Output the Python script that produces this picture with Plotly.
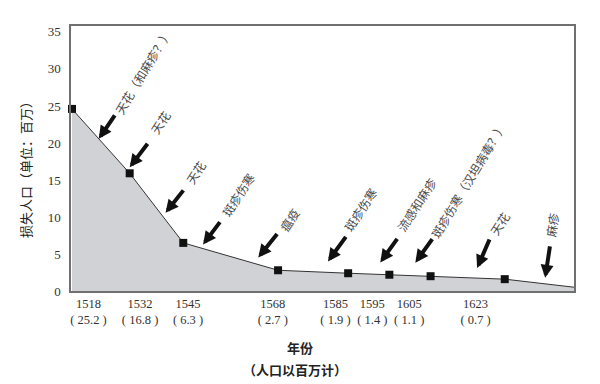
import numpy as np
import plotly.graph_objects as go

# ---------------- data ----------------
years = [1518, 1532, 1545, 1568, 1585, 1595, 1605, 1623]
loss = [24.6, 15.9, 6.5, 2.8, 2.4, 2.2, 2.0, 1.6]          # plotted heights (millions)
label_values = ["25.2", "16.8", "6.3", "2.7", "1.9", "1.4", "1.1", "0.7"]
end_year = 1640
end_value = 0.5

epidemic_labels = ["天花（和麻疹？）", "天花", "天花", "斑疹伤寒", "瘟疫",
                   "斑疹伤寒", "流感和麻疹", "斑疹伤寒（汉坦病毒？）", "天花", "麻疹"]
epidemic_years = [1524.5, 1532, 1540.7, 1549.8, 1563.2, 1580.1, 1592.8, 1601.3, 1616.3, 1632.8]

y_ticks = [0, 5, 10, 15, 20, 25, 30, 35]

# ---------------- styling ----------------
arrow_ax = [17, 19, 19, 18, 20, 19, 18, 18, 13, 5]
arrow_ay = [-25, -25, -24, -24, -25, -26, -25, -25, -30, -33]
arrow_gap = [0, 6, 7, 4, 7, 11, 12, 13, 10, 6]
text_dx = [44, 30, 30, 35, 31, 32, 36, 53, 22, 7]
text_dy = [67, 45, 40, 50, 38, 52, 58, 83, 45, 53]
text_angle = [-59, -57, -57, -57, -57, -57, -57, -59, -57, -82]

line_x = years + [end_year]
line_y = loss + [end_value]
tip_y = np.interp(epidemic_years, line_x, line_y)

CJK = "Noto Sans CJK SC"
SERIF = "Liberation Serif"

fig = go.Figure()
# invisible trace so the labelled year axis (x) is drawn
fig.add_trace(go.Scatter(
    x=years, y=loss, mode="markers", xaxis="x",
    marker=dict(size=1, opacity=0), hoverinfo="skip", showlegend=False))
fig.add_trace(go.Scatter(
    x=line_x, y=line_y, mode="lines", fill="tozeroy", xaxis="x2",
    fillcolor="#d0d2d6", line=dict(color="#333333", width=1),
    hoverinfo="skip", showlegend=False))
fig.add_trace(go.Scatter(
    x=years, y=loss, mode="markers", cliponaxis=False, xaxis="x2",
    marker=dict(symbol="square", size=8, color="#111111"),
    showlegend=False))

annotations = []
for i, lab in enumerate(epidemic_labels):
    annotations.append(dict(
        x=epidemic_years[i], y=tip_y[i], xref="x2", yref="y",
        text="", showarrow=True, arrowhead=2, arrowwidth=4, arrowsize=0.65,
        arrowcolor="#111111", ax=arrow_ax[i], ay=arrow_ay[i],
        yshift=arrow_gap[i]))
    annotations.append(dict(
        x=epidemic_years[i], y=tip_y[i], xref="x2", yref="y",
        text=lab, showarrow=False, textangle=text_angle[i],
        xshift=text_dx[i], yshift=text_dy[i] + arrow_gap[i],
        font=dict(family=CJK, size=12, color="#4a4a4a")))

annotations.append(dict(
    x=-0.0895, y=0.472, xref="paper", yref="paper", text="损失人口（单位：百万）",
    textangle=-90, showarrow=False, xanchor="center", yanchor="middle",
    font=dict(family=CJK, size=13, color="#222222")))
annotations.append(dict(
    x=0.455, y=-0.215, xref="paper", yref="paper", text="<b>年份</b>",
    showarrow=False, xanchor="center", yanchor="middle",
    font=dict(family=CJK, size=13, color="#222222")))
annotations.append(dict(
    x=0.445, y=-0.298, xref="paper", yref="paper", text="<b>（人口以百万计）</b>",
    showarrow=False, xanchor="center", yanchor="middle",
    font=dict(family=CJK, size=13, color="#222222")))

tick_text = [f"{y}<br>( {v} )" for y, v in zip(years, label_values)]

frame = dict(showline=True, mirror=True, linecolor="#707070", linewidth=1.5)

# page body has an 8px default margin, so the figure is 8px smaller
fig.update_layout(
    width=592, height=376,
    margin=dict(l=63, r=26, t=18, b=93),
    paper_bgcolor="white", plot_bgcolor="white",
    showlegend=False,
    annotations=annotations,
    xaxis=dict(range=[1513.27, 1649.7], tickmode="array",
               tickvals=years, ticktext=tick_text, tickangle=0,
               ticks="", showgrid=False, zeroline=False,
               tickfont=dict(family=SERIF, size=12.5, color="#333333"), **frame),
    xaxis2=dict(overlaying="x", anchor="y", side="bottom",
                range=[1517.76, 1639.8], showticklabels=False,
                showgrid=False, zeroline=False, ticks="", **frame),
    yaxis=dict(range=[0, 35.8], tickmode="array", tickvals=y_ticks,
               showgrid=False, zeroline=False, ticks="",
               ticklabelstandoff=6,
               tickfont=dict(family=SERIF, size=13, color="#333333"), **frame),
)

fig.write_html("out.html")
